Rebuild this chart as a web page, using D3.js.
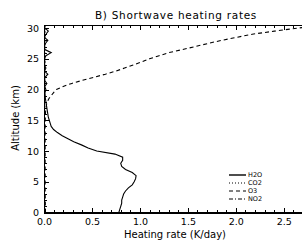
<!DOCTYPE html>
<meta charset="utf-8">
<style>
    body {
        margin: 0;
        background: #fff;
        font-family: "DejaVu Sans", sans-serif;
    }

    .axis path,
    .axis line {
        fill: none;
        stroke: #000;
        shape-rendering: crispEdges;
    }

    .axis text {
        font: 9.5px "DejaVu Sans", sans-serif;
        fill: #000;
    }

    .minor path {
        display: none;
    }
</style>

<body>
    <script src="https://cdnjs.cloudflare.com/ajax/libs/d3/7.8.5/d3.min.js"></script>
    <script>

        // altitude grid (km)
        var altitude = d3.range(0, 30.51, 0.5);

        // heating rates (K/day), one per altitude level
        var h2o = [0.78, 0.79, 0.80, 0.81, 0.81, 0.82, 0.83, 0.85, 0.88, 0.92,
            0.94, 0.955, 0.96, 0.92, 0.85, 0.81, 0.80, 0.82, 0.82, 0.74,
            0.55, 0.46, 0.39, 0.31, 0.25, 0.19, 0.14, 0.10, 0.075, 0.065,
            0.055, 0.045, 0.04, 0.035, 0.03, 0.025, 0.02, 0.015, 0.012, 0.01,
            0.02, 0.008, 0.03, 0.006, 0.01, 0.04, 0.005, 0.02, 0.004, 0.01,
            0.005, 0.02, 0.075, 0.01, 0.004, 0.015, 0.04, 0.005, 0.02, 0.045,
            0.01, 0.005];

        var co2 = [0.004, 0.004, 0.004, 0.004, 0.004, 0.004, 0.004, 0.004, 0.004, 0.004,
            0.004, 0.004, 0.004, 0.004, 0.004, 0.004, 0.004, 0.004, 0.004, 0.004,
            0.004, 0.004, 0.004, 0.004, 0.004, 0.004, 0.005, 0.005, 0.005, 0.005,
            0.005, 0.005, 0.005, 0.005, 0.006, 0.006, 0.006, 0.006, 0.006, 0.007,
            0.007, 0.007, 0.007, 0.008, 0.008, 0.008, 0.008, 0.009, 0.009, 0.009,
            0.01, 0.01, 0.01, 0.011, 0.011, 0.012, 0.012, 0.012, 0.013, 0.013,
            0.014, 0.014];

        var o3 = [0.015, 0.015, 0.014, 0.014, 0.013, 0.013, 0.012, 0.012, 0.012, 0.012,
            0.012, 0.012, 0.012, 0.012, 0.012, 0.012, 0.012, 0.012, 0.012, 0.012,
            0.012, 0.012, 0.012, 0.012, 0.012, 0.012, 0.012, 0.012, 0.012, 0.013,
            0.013, 0.014, 0.015, 0.017, 0.02, 0.025, 0.035, 0.05, 0.075, 0.10,
            0.13, 0.20, 0.29, 0.40, 0.52, 0.64, 0.75, 0.84, 0.93, 1.02,
            1.10, 1.20, 1.30, 1.44, 1.58, 1.71, 1.85, 2.01, 2.17, 2.40,
            2.65, 2.90];

        var no2 = [0.002, 0.002, 0.002, 0.002, 0.002, 0.002, 0.002, 0.002, 0.002, 0.002,
            0.002, 0.002, 0.002, 0.002, 0.002, 0.002, 0.002, 0.002, 0.002, 0.002,
            0.002, 0.002, 0.002, 0.002, 0.002, 0.002, 0.002, 0.002, 0.002, 0.002,
            0.002, 0.002, 0.002, 0.002, 0.002, 0.002, 0.003, 0.003, 0.003, 0.003,
            0.003, 0.003, 0.003, 0.003, 0.004, 0.004, 0.004, 0.004, 0.004, 0.004,
            0.005, 0.005, 0.005, 0.005, 0.005, 0.005, 0.006, 0.006, 0.006, 0.006,
            0.006, 0.006];

        var gases = ["H2O", "CO2", "O3", "NO2"];
        var values = [h2o, co2, o3, no2];
        var dashes = [null, "1,2", "4,3", "4,2,1,2"];

        var xTicks = [0, 0.5, 1.0, 1.5, 2.0, 2.5];
        var yTicks = [0, 5, 10, 15, 20, 25, 30];

        var W = 302, H = 244;
        var pLeft = 44, pRight = 303, pTop = 25, pBottom = 212.5;

        var svg = d3.select("body").append("svg")
            .attr("width", W)
            .attr("height", H);

        var x = d3.scaleLinear().domain([0, 2.7]).range([pLeft, pRight]);
        var y = d3.scaleLinear().domain([0, 30.5]).range([pBottom, pTop]);

        svg.append("clipPath").attr("id", "plot")
            .append("rect")
            .attr("x", pLeft).attr("y", pTop)
            .attr("width", pRight - pLeft).attr("height", pBottom - pTop);

        var line = d3.line()
            .x(function (d) { return x(d[0]); })
            .y(function (d) { return y(d[1]); });

        var curves = svg.append("g").attr("clip-path", "url(#plot)");
        values.forEach(function (v, i) {
            curves.append("path")
                .datum(v.map(function (d, j) { return [d, altitude[j]]; }))
                .attr("fill", "none")
                .attr("stroke", "#000")
                .attr("stroke-width", 1.1)
                .attr("stroke-dasharray", dashes[i])
                .attr("d", line);
        });

        // minor ticks
        svg.append("g").attr("class", "axis minor")
            .attr("transform", "translate(0," + pBottom + ")")
            .call(d3.axisBottom(x).tickValues(d3.range(0, 2.71, 0.1)).tickSize(-2.5).tickFormat(""));
        svg.append("g").attr("class", "axis minor")
            .attr("transform", "translate(0," + pTop + ")")
            .call(d3.axisTop(x).tickValues(d3.range(0, 2.71, 0.1)).tickSize(-2.5).tickFormat(""));
        svg.append("g").attr("class", "axis minor")
            .attr("transform", "translate(" + pLeft + ",0)")
            .call(d3.axisLeft(y).tickValues(d3.range(0, 30.1, 1)).tickSize(-2.5).tickFormat(""));

        // major ticks
        svg.append("g").attr("class", "axis")
            .attr("transform", "translate(0," + pBottom + ")")
            .call(d3.axisBottom(x).tickValues(xTicks).tickSize(-4.5).tickSizeOuter(0).tickPadding(6)
                .tickFormat(d3.format(".1f")));
        svg.append("g").attr("class", "axis")
            .attr("transform", "translate(0," + pTop + ")")
            .call(d3.axisTop(x).tickValues(xTicks).tickSize(-4.5).tickSizeOuter(0).tickFormat(""));
        svg.append("g").attr("class", "axis")
            .attr("transform", "translate(" + pLeft + ",0)")
            .call(d3.axisLeft(y).tickValues(yTicks).tickSize(-4.5).tickSizeOuter(0).tickPadding(5));

        svg.selectAll(".axis .domain").attr("stroke-width", 1.3);

        // titles
        svg.append("text")
            .attr("x", 176).attr("y", 19.3)
            .attr("text-anchor", "middle")
            .style("font-size", "10.5px")
            .style("letter-spacing", "0.7px")
            .text("B) Shortwave heating rates");

        svg.append("text")
            .attr("x", 175).attr("y", 237.5)
            .attr("text-anchor", "middle")
            .style("font-size", "10px")
            .text("Heating rate (K/day)");

        svg.append("text")
            .attr("transform", "translate(19,118) rotate(-90)")
            .attr("text-anchor", "middle")
            .style("font-size", "10px")
            .text("Altitude (km)");

        // legend
        var legend = svg.append("g");
        gases.forEach(function (g, i) {
            var ly = 175 + i * 8;
            legend.append("line")
                .attr("x1", 229).attr("x2", 246)
                .attr("y1", ly).attr("y2", ly)
                .attr("stroke", "#000")
                .attr("stroke-width", i === 0 ? 1.4 : 1)
                .attr("stroke-dasharray", dashes[i]);
            legend.append("text")
                .attr("x", 248).attr("y", ly + 2.3)
                .style("font-size", "6.5px")
                .text(g);
        });

    </script>
</body>
